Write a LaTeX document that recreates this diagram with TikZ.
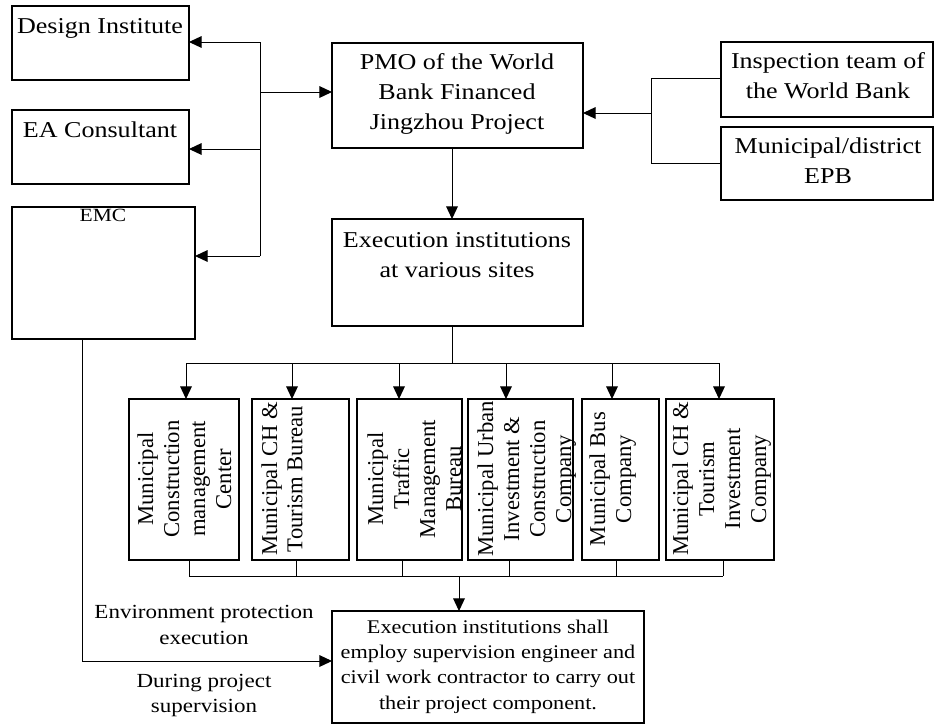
\documentclass[tikz,border=0pt]{standalone}
\usepackage{fontspec}
\setmainfont{Liberation Serif}
\newfontfamily\hf[FakeStretch=1.15]{Liberation Serif}
\usetikzlibrary{fit,arrows.meta}
\newcommand{\mylines}[1]{\begin{tabular}[t]{@{}c@{}}#1\end{tabular}}
\begin{document}
\begin{tikzpicture}[x=0.75pt,y=-0.75pt,
  box/.style={draw, line width=1.3pt, inner sep=0pt, outer sep=0pt},
  conn/.style={line width=0.75pt},
  arr/.style={conn, -{Triangle[length=9.5pt,width=8.8pt]}},
  htxt/.style={anchor=base, inner sep=0pt, font={\hf\fontsize{17}{22.5}\selectfont}},
  smalltxt/.style={anchor=base, inner sep=0pt, font={\hf\fontsize{14}{17}\selectfont}},
  fintxt/.style={anchor=base, inner sep=0pt, font={\hf\fontsize{14.5}{19}\selectfont}},
  labtxt/.style={anchor=base, inner sep=0pt, font={\hf\fontsize{15}{20}\selectfont}},
  vtxt/.style={anchor=base, inner sep=0pt, rotate=90, font={\fontsize{17}{19.5}\selectfont}},
]
\useasboundingbox (0,0) rectangle (934,725);

% boxes
\node[box, fit={(12,6) (189,80)}] (di) {};
\node[box, fit={(12,110) (189,184)}] (ea) {};
\node[box, fit={(12,207) (195,339)}] (emc) {};
\node[box, fit={(332,43) (583,148)}] (pmo) {};
\node[box, fit={(332,219) (583,326)}] (exec) {};
\node[box, fit={(721,42) (933,117)}] (insp) {};
\node[box, fit={(721,127) (933,200)}] (mun) {};
\node[box, fit={(129,399) (239,560)}] (b1) {};
\node[box, fit={(252,399) (349,560)}] (b2) {};
\node[box, fit={(357,399) (462,560)}] (b3) {};
\node[box, fit={(468,399) (573,560)}] (b4) {};
\node[box, fit={(582,399) (659,560)}] (b5) {};
\node[box, fit={(666,399) (774,560)}] (b6) {};
\node[box, fit={(332,611) (644,723)}] (fin) {};

% texts
\node[htxt] (tdi) at (100,33) {Design Institute};
\node[htxt] (tea) at (100,137) {EA Consultant};
\node[smalltxt] (temc) at (103,221) {EMC};
\node[htxt] (tpmo) at (457,69) {\mylines{PMO of the World\\Bank Financed\\Jingzhou Project}};
\node[htxt] (texec) at (457,247) {\mylines{Execution institutions\\at various sites}};
\node[htxt] (tinsp) at (828,68) {\mylines{Inspection team of\\the World Bank}};
\node[htxt] (tmun) at (828,153) {\mylines{Municipal/district\\EPB}};
\node[vtxt] (tb1) at (153,479) {\mylines{Municipal\\Construction\\management\\Center}};
\node[vtxt, font={\fontsize{17}{19}\selectfont}] (tb2) at (277,479) {\mylines{Municipal CH \&\\Tourism Bureau}};
\node[vtxt] (tb3) at (383,479) {\mylines{Municipal\\Traffic\\Management\\Bureau}};
\node[vtxt] (tb4) at (493,479) {\mylines{Municipal Urban\\Investment \&\\Construction\\Company}};
\node[vtxt] (tb5) at (605,479) {\mylines{Municipal Bus\\Company}};
\node[vtxt] (tb6) at (688,479) {\mylines{Municipal CH \&\\Tourism\\Investment\\Company}};
\node[fintxt] (tfin) at (488,633) {\mylines{Execution institutions shall\\employ supervision engineer and\\civil work contractor to carry out\\their project component.}};
\node[labtxt] (lab1) at (204,618) {\mylines{Environment protection\\execution}};
\node[labtxt, font={\hf\fontsize{15}{19}\selectfont}] (lab2) at (204,687) {\mylines{During project\\supervision}};

% left connectors
\coordinate (lj1) at (260,42);
\coordinate (lj0) at (260,92);
\coordinate (lj2) at (260,149);
\coordinate (lj3) at (260,256);
\draw[conn] (lj1) -- (lj3);
\draw[arr] (lj1) -- (lj1 -| di.east);
\draw[arr] (lj2) -- (lj2 -| ea.east);
\draw[arr] (lj3) -- (lj3 -| emc.east);
\draw[arr] (lj0) -- (lj0 -| pmo.west);

% right connectors
\coordinate (rj1) at (651,78);
\coordinate (rj0) at (651,113);
\coordinate (rj2) at (651,163);
\draw[conn] (rj1 -| insp.west) -- (rj1) -- (rj2) -- (rj2 -| mun.west);
\draw[arr] (rj0) -- (rj0 -| pmo.east);

% PMO to execution
\coordinate (px) at (452,0);
\draw[arr] (px |- pmo.south) -- (px |- exec.north);

% distribution
\coordinate (dt) at (452,363);
\draw[conn] (px |- exec.south) -- (dt);
\coordinate (t1) at (186,363);
\coordinate (t2) at (292,363);
\coordinate (t3) at (399,363);
\coordinate (t4) at (506,363);
\coordinate (t5) at (612,363);
\coordinate (t6) at (719,363);
\draw[conn] (t1) -- (t6);
\draw[arr] (t1) -- (t1 |- b1.north);
\draw[arr] (t2) -- (t2 |- b2.north);
\draw[arr] (t3) -- (t3 |- b3.north);
\draw[arr] (t4) -- (t4 |- b4.north);
\draw[arr] (t5) -- (t5 |- b5.north);
\draw[arr] (t6) -- (t6 |- b6.north);

% collection
\coordinate (c1) at (189,576);
\coordinate (c2) at (296,576);
\coordinate (c3) at (402,576);
\coordinate (c4) at (509,576);
\coordinate (c5) at (616,576);
\coordinate (c6) at (723,576);
\coordinate (cm) at (459,576);
\draw[conn] (c1) -- (c6);
\draw[conn] (c1 |- b1.south) -- (c1);
\draw[conn] (c2 |- b2.south) -- (c2);
\draw[conn] (c3 |- b3.south) -- (c3);
\draw[conn] (c4 |- b4.south) -- (c4);
\draw[conn] (c5 |- b5.south) -- (c5);
\draw[conn] (c6 |- b6.south) -- (c6);
\draw[arr] (cm) -- (cm |- fin.north);

% EMC supervision line
\coordinate (ec) at (82,661);
\draw[arr] (ec |- emc.south) -- (ec) -- (ec -| fin.west);
\end{tikzpicture}
\end{document}
